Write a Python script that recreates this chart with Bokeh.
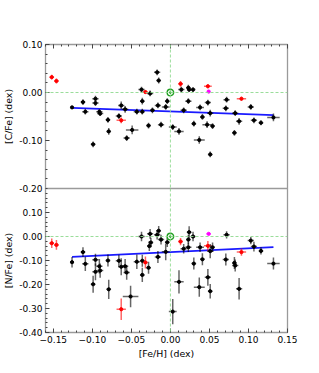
from bokeh.plotting import figure
from bokeh.layouts import column
from bokeh.models import (Range1d, FixedTicker, CustomJSTickFormatter, LinearAxis,
                          Span, ColumnDataSource, CustomLabelingPolicy)
from bokeh.embed import file_html
from bokeh.resources import INLINE

# ---------------- data: top panel [C/Fe] ----------------
feh_c = [-0.152, -0.146, -0.126, -0.112, -0.109, -0.099, -0.096, -0.096, -0.091, -0.090,
         -0.080, -0.079, -0.066, -0.063, -0.063, -0.058, -0.056, -0.049, -0.043, -0.037,
         -0.036, -0.036, -0.032, -0.026, -0.028, -0.023, -0.017, -0.015, -0.016, -0.012,
         -0.004, -0.006, 0.003, 0.011, 0.013, 0.014, 0.017, 0.023, 0.023, 0.024,
         0.029, 0.030, 0.037, 0.038, 0.041, 0.047, 0.048, 0.049, 0.048, 0.051,
         0.054, 0.051, 0.071, 0.072, 0.082, 0.083, 0.088, 0.091, 0.103, 0.107,
         0.116, 0.132]
feh_c_err = [0.003, 0.003, 0.002, 0.003, 0.004, 0.003, 0.004, 0.004, 0.004, 0.004,
             0.003, 0.003, 0.004, 0.004, 0.006, 0.004, 0.004, 0.008, 0.004, 0.004,
             0.003, 0.003, 0.003, 0.004, 0.003, 0.003, 0.004, 0.003, 0.004, 0.004,
             0.003, 0.005, 0.005, 0.006, 0.003, 0.004, 0.004, 0.003, 0.004, 0.003,
             0.003, 0.003, 0.007, 0.005, 0.003, 0.006, 0.005, 0.002, 0.004, 0.004,
             0.003, 0.003, 0.004, 0.004, 0.003, 0.004, 0.004, 0.006, 0.004, 0.004,
             0.003, 0.008]
cfe = [0.032, 0.024, -0.031, -0.020, -0.040, -0.108, -0.013, -0.022, -0.040, -0.044,
       -0.057, -0.081, -0.049, -0.027, -0.058, -0.035, -0.095, -0.078, -0.040, 0.006,
       -0.018, -0.040, 0.001, -0.002, -0.069, -0.037, 0.042, 0.025, -0.027, -0.067,
       -0.018, -0.030, -0.072, -0.081, 0.018, 0.006, -0.037, 0.010, -0.018, 0.006,
       0.006, -0.065, -0.099, -0.031, -0.051, -0.067, 0.013, 0.002, -0.021, -0.043,
       -0.070, -0.129, -0.033, -0.015, -0.084, -0.043, -0.060, -0.013, -0.030, -0.058,
       -0.063, -0.052]
cfe_err = [0.005, 0.005, 0.002, 0.006, 0.006, 0.006, 0.006, 0.006, 0.005, 0.005,
           0.006, 0.007, 0.006, 0.008, 0.006, 0.007, 0.006, 0.009, 0.006, 0.006,
           0.007, 0.006, 0.004, 0.006, 0.006, 0.006, 0.006, 0.006, 0.006, 0.006,
           0.006, 0.006, 0.006, 0.007, 0.006, 0.006, 0.006, 0.006, 0.006, 0.005,
           0.005, 0.006, 0.008, 0.006, 0.006, 0.007, 0.004, 0.002, 0.006, 0.007,
           0.006, 0.006, 0.006, 0.006, 0.006, 0.006, 0.007, 0.004, 0.006, 0.006,
           0.005, 0.008]
group_c = ["r", "r", "k", "k", "k", "k", "k", "k", "k", "k",
           "k", "k", "k", "k", "r", "k", "k", "k", "k", "k",
           "k", "k", "r", "k", "k", "k", "k", "k", "k", "k",
           "k", "k", "k", "k", "r", "k", "k", "k", "k", "k",
           "k", "k", "k", "k", "k", "k", "r", "m", "k", "k",
           "k", "k", "k", "k", "k", "k", "k", "r", "k", "k",
           "k", "k"]

# ---------------- data: bottom panel [N/Fe] ----------------
feh_n = [-0.152, -0.146, -0.126, -0.112, -0.109, -0.099, -0.096, -0.096, -0.091, -0.090,
         -0.080, -0.079, -0.066, -0.063, -0.063, -0.058, -0.056, -0.051, -0.043, -0.037,
         -0.036, -0.036, -0.032, -0.026, -0.025, -0.027, -0.028, -0.017, -0.015, -0.016,
         -0.012, -0.004, -0.006, 0.003, 0.011, 0.013, 0.017, 0.023, 0.023, 0.024,
         0.029, 0.030, 0.037, 0.038, 0.041, 0.048, 0.049, 0.048, 0.051, 0.054,
         0.051, 0.071, 0.072, 0.082, 0.083, 0.088, 0.091, 0.103, 0.107, 0.116,
         0.132]
feh_n_err = [0.003, 0.003, 0.002, 0.003, 0.004, 0.003, 0.004, 0.004, 0.004, 0.004,
             0.003, 0.003, 0.004, 0.004, 0.006, 0.004, 0.004, 0.010, 0.004, 0.004,
             0.003, 0.003, 0.003, 0.004, 0.003, 0.003, 0.003, 0.004, 0.003, 0.004,
             0.004, 0.003, 0.005, 0.005, 0.006, 0.003, 0.004, 0.003, 0.004, 0.003,
             0.003, 0.003, 0.007, 0.005, 0.003, 0.005, 0.003, 0.004, 0.004, 0.003,
             0.003, 0.004, 0.004, 0.003, 0.004, 0.004, 0.006, 0.004, 0.004, 0.003,
             0.008]
nfe = [-0.028, -0.035, -0.107, -0.065, -0.114, -0.199, -0.097, -0.147, -0.124, -0.142,
       -0.100, -0.220, -0.101, -0.126, -0.303, -0.124, -0.150, -0.250, -0.105, 0.000,
       -0.101, -0.160, -0.108, 0.011, -0.025, -0.040, -0.130, 0.007, 0.024, -0.085,
       -0.013, -0.024, -0.064, -0.313, -0.189, -0.021, -0.051, -0.013, -0.045, 0.018,
       0.000, -0.113, -0.211, -0.045, -0.095, -0.039, 0.011, -0.170, -0.061, -0.045,
       -0.228, -0.096, 0.007, -0.110, -0.121, -0.218, -0.065, -0.017, -0.042, -0.060,
       -0.113]
nfe_err = [0.020, 0.020, 0.022, 0.020, 0.030, 0.035, 0.025, 0.035, 0.030, 0.030,
           0.025, 0.040, 0.025, 0.035, 0.045, 0.030, 0.030, 0.045, 0.030, 0.020,
           0.025, 0.030, 0.025, 0.020, 0.020, 0.020, 0.025, 0.020, 0.020, 0.025,
           0.020, 0.020, 0.035, 0.053, 0.048, 0.015, 0.020, 0.020, 0.020, 0.025,
           0.020, 0.025, 0.040, 0.020, 0.025, 0.020, 0.004, 0.035, 0.030, 0.020,
           0.030, 0.025, 0.015, 0.025, 0.025, 0.045, 0.015, 0.015, 0.020, 0.015,
           0.025]
group_n = ["r", "r", "k", "k", "k", "k", "k", "k", "k", "k",
           "k", "k", "k", "k", "r", "k", "k", "k", "k", "k",
           "k", "k", "r", "k", "k", "k", "k", "k", "k", "k",
           "k", "k", "k", "k", "k", "r", "k", "k", "k", "k",
           "k", "k", "k", "k", "k", "r", "m", "k", "k", "k",
           "k", "k", "k", "k", "k", "k", "r", "k", "k", "k",
           "k"]

# solar reference and linear fits
sun_feh = [0.0]
sun_c = [0.0]
sun_n = [0.0]
fit_feh = [-0.126, 0.132]
fit_c = [-0.032, -0.047]
fit_n = [-0.085, -0.044]

x_ticks = [-0.15, -0.10, -0.05, 0.0, 0.05, 0.10, 0.15]
y_ticks_c = [-0.2, -0.1, 0.0, 0.1]
y_ticks_n = [-0.4, -0.3, -0.2, -0.1, 0.0, 0.1]

COLMAP = {"k": "black", "r": "red", "m": "magenta"}
FONT = "DejaVu Sans"
FRAME = "#9a9a9a"
OVERLAP = 7

x_minor = [round(-0.16 + 0.01 * i, 2) for i in range(32)]


def yminor(lo, hi):
    n = int(round((hi - lo) / 0.02))
    return [round(lo + 0.02 * i, 2) for i in range(n + 1)]


def src(x, xe, y, ye, grp):
    return ColumnDataSource(dict(
        x=x, y=y,
        xl=[a - b for a, b in zip(x, xe)], xr=[a + b for a, b in zip(x, xe)],
        yl=[a - b for a, b in zip(y, ye)], yh=[a + b for a, b in zip(y, ye)],
        c=[COLMAP[g] for g in grp]))


def style_axis(ax):
    ax.axis_line_color = None
    ax.major_tick_in = 4
    ax.major_tick_out = 0
    ax.minor_tick_in = 2
    ax.minor_tick_out = 0
    ax.major_tick_line_color = "#444444"
    ax.minor_tick_line_color = "#444444"
    ax.major_label_text_font = FONT
    ax.major_label_text_font_size = "9px"
    ax.major_label_text_color = "black"
    ax.major_label_standoff = 3
    ax.axis_label_text_font = FONT
    ax.axis_label_text_font_style = "normal"
    ax.axis_label_text_font_size = "9.4px"
    ax.axis_label_text_color = "black"
    ax.axis_label_standoff = 2


xfmt = CustomJSTickFormatter(code="""
var t = Math.abs(tick) < 1e-9 ? 0 : tick;
return t.toFixed(2).replace('-', '\u2212');
""")
yfmt = CustomJSTickFormatter(code="""
var t = Math.abs(tick) < 1e-9 ? 0 : tick;
return t.toFixed(2);
""")
no_labels = CustomLabelingPolicy(code="return new Set();")


def make_panel(x, xe, y, ye, grp, sy, fy, yr, yticks, ylabel, top):
    kw = dict(min_border_top=44, min_border_bottom=OVERLAP, height=44 + 144 + OVERLAP,
              x_axis_location=None) if top else \
        dict(min_border_top=0, min_border_bottom=33, height=144 + 33)
    p = figure(width=301, x_range=Range1d(-0.16, 0.15), y_range=Range1d(*yr),
               output_backend="svg", toolbar_location=None,
               min_border_left=40, min_border_right=14, **kw)
    p.grid.visible = False
    p.outline_line_color = FRAME
    p.outline_line_width = 1.3
    if not top:
        p.border_fill_alpha = 0
        p.styles = {"margin-top": "-%dpx" % OVERLAP}

    p.yaxis.ticker = FixedTicker(ticks=yticks, minor_ticks=yminor(*yr))
    p.yaxis.formatter = yfmt
    p.yaxis.axis_label = ylabel
    for ax in p.yaxis:
        style_axis(ax)
    if top:
        up = LinearAxis(ticker=FixedTicker(ticks=x_ticks, minor_ticks=x_minor),
                        formatter=xfmt, major_label_policy=no_labels)
        style_axis(up)
        up.major_label_standoff = 0
        p.add_layout(up, "above")
    else:
        p.xaxis.ticker = FixedTicker(ticks=x_ticks, minor_ticks=x_minor)
        p.xaxis.formatter = xfmt
        p.xaxis.axis_label = "[Fe/H] (dex)"
        for ax in p.xaxis:
            style_axis(ax)

    for dim in ("width", "height"):
        p.add_layout(Span(location=0.0, dimension=dim, line_color="#8fd98f",
                          line_width=0.9, line_dash="3 2"))

    p.line(fit_feh, fy, line_color="#1a1aff", line_width=1.8)

    s = src(x, xe, y, ye, grp)
    p.segment("xl", "y", "xr", "y", source=s, line_color="c", line_alpha=0.6, line_width=1.5)
    p.segment("x", "yl", "x", "yh", source=s, line_color="c", line_alpha=0.6, line_width=1.5)
    p.scatter("x", "y", source=s, marker="circle", size=3.2, fill_color="c",
              line_color="c")

    p.scatter(sun_feh, sy, marker="circle", size=6.5, fill_color=None,
              line_color="#22a022", line_width=1.4)
    p.scatter(sun_feh, sy, marker="circle", size=1.8, fill_color="#22a022",
              line_color="#22a022")
    return p


p1 = make_panel(feh_c, feh_c_err, cfe, cfe_err, group_c, sun_c, fit_c,
                (-0.20, 0.10), y_ticks_c, "[C/Fe] (dex)", True)
p2 = make_panel(feh_n, feh_n_err, nfe, nfe_err, group_n, sun_n, fit_n,
                (-0.40, 0.20), y_ticks_n, "[N/Fe] (dex)", False)

layout = column(p1, p2, spacing=0)

with open("out.html", "w") as f:
    f.write(file_html(layout, INLINE))
